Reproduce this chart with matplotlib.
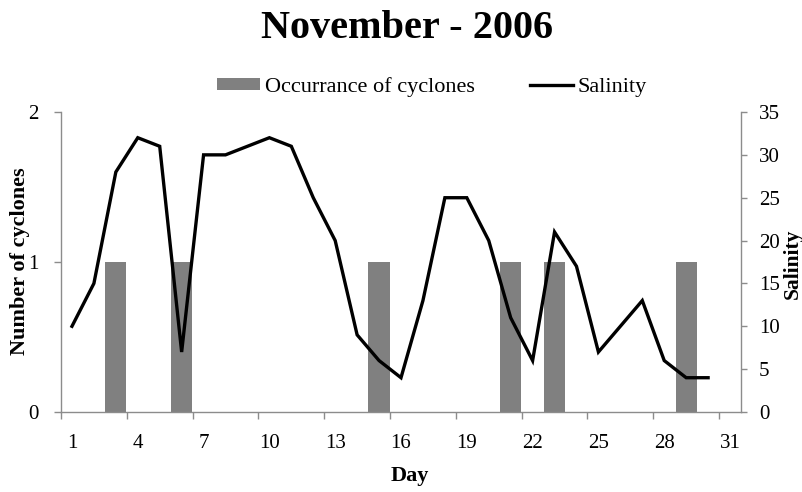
import matplotlib
matplotlib.use('Agg')
import matplotlib.pyplot as plt
from matplotlib.ticker import FixedLocator, NullFormatter

# ---- data ----
cyclone_days = [3, 6, 15, 21, 23, 29]
cyclone_counts = [1, 1, 1, 1, 1, 1]
salinity_days = list(range(1, 31))
salinity = [10, 15, 28, 32, 31, 7, 30, 30, 31, 32, 31, 25, 20, 9, 6, 4,
            13, 25, 25, 20, 11, 6, 21, 17, 7, 10, 13, 6, 4, 4]
xtick_days = [1, 4, 7, 10, 13, 16, 19, 22, 25, 28, 31]
left_ticks = [0, 1, 2]
right_ticks = [0, 5, 10, 15, 20, 25, 30, 35]

plt.rcParams['font.family'] = ['Liberation Serif', 'DejaVu Serif']

W, H = 803, 492
fig = plt.figure(figsize=(W / 100, H / 100), dpi=100)
ax = fig.add_axes([61 / W, 80 / H, (741 - 61) / W, 300 / H])
ax2 = ax.twinx()

spine_col = '#8c8c8c'
bars = ax.bar(cyclone_days, cyclone_counts, width=0.97, color='#808080',
              label='Occurrance of cyclones', zorder=1)
line, = ax2.plot(salinity_days, salinity, color='black', lw=2.4,
                 label='Salinity', solid_joinstyle='miter')

ax.set_xlim(0.5, 31.5)
ax.set_ylim(0, 2)
ax2.set_ylim(0, 35)

ax.xaxis.set_major_locator(FixedLocator(xtick_days))
ax.set_xticklabels([str(d) for d in xtick_days])
ax.xaxis.set_minor_locator(FixedLocator([0.5 + 3 * k for k in range(11)]))
ax.xaxis.set_minor_formatter(NullFormatter())
ax.tick_params(axis='x', which='major', length=0, pad=16, labelsize=15)
ax.tick_params(axis='x', which='minor', length=5, width=1, color=spine_col,
               direction='out')

ax.set_yticks(left_ticks)
ax.tick_params(axis='y', length=5, width=1, color=spine_col, pad=11,
               labelsize=15, direction='out')
ax2.set_yticks(right_ticks)
ax2.tick_params(axis='y', length=4, width=1, color=spine_col, pad=9,
                labelsize=15, direction='out')

for a in (ax, ax2):
    a.spines['top'].set_visible(False)
    for s in ('left', 'right', 'bottom'):
        a.spines[s].set_color(spine_col)
        a.spines[s].set_linewidth(1)
ax.spines['right'].set_visible(False)
ax2.spines['left'].set_visible(False)
ax2.spines['bottom'].set_visible(False)

fig.text(407 / W, 1 - 29 / H, 'November - 2006', ha='center', va='center',
         fontsize=29, fontweight='bold')
fig.text(410 / W, 1 - 476 / H, 'Day', ha='center', va='center',
         fontsize=16, fontweight='bold')
fig.text(20 / W, 1 - 261 / H, 'Number of cyclones', ha='center', va='center',
         rotation=90, fontsize=16, fontweight='bold')
fig.text(793 / W, 1 - 264 / H, 'Salinity', ha='center', va='center',
         rotation=90, fontsize=15.5, fontweight='bold')

leg = fig.legend(handles=[bars, line], loc='center',
                 bbox_to_anchor=(432 / W, 1 - 87 / H), ncol=2, frameon=False,
                 fontsize=16, handlelength=1.95, handleheight=0.5,
                 handletextpad=0.2, columnspacing=2.5)

fig.savefig('out.png', dpi=100)
